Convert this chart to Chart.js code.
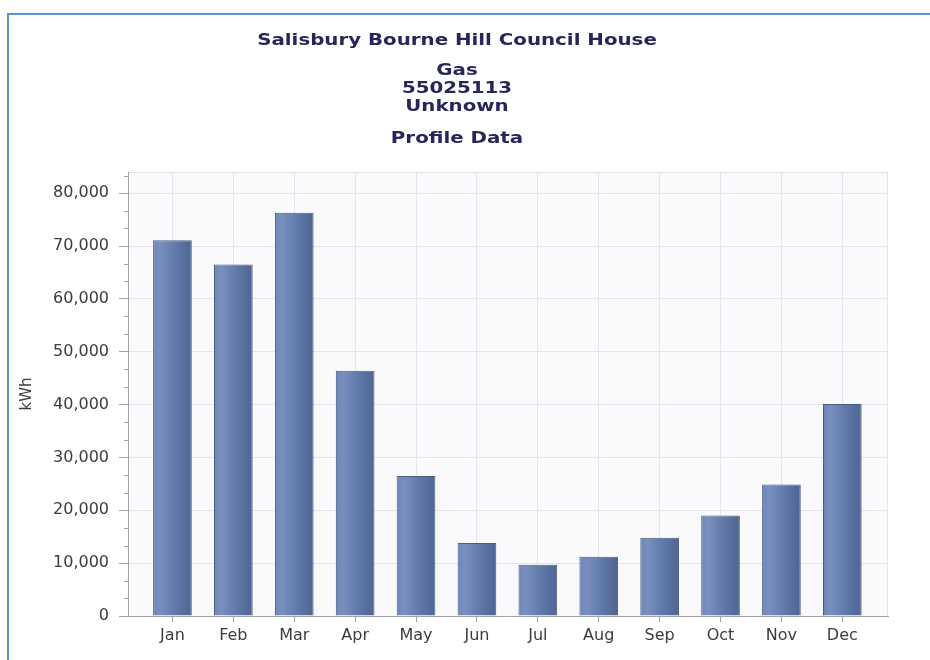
<!DOCTYPE html>
<html>
<head>
<meta charset="utf-8">
<title>Profile Data</title>
<script src="https://cdn.jsdelivr.net/npm/chart.js@4.4.1/dist/chart.umd.min.js"></script>
<style>
    body { margin: 0; background: #fff; }
    #marco {
        position: absolute; left: 7px; top: 13px; right: 0; bottom: 0;
        border-top: 2px solid #5b92d3; border-left: 2px solid #5b92d3;
    }
    #grafico { position: absolute; left: 0; top: 0; }
    .titulo {
        position: absolute; left: 0; width: 914px; text-align: center;
        font: bold 15px "DejaVu Sans", Verdana, sans-serif; color: #26265c;
        line-height: 18px; transform: scaleX(1.32); transform-origin: 457px 0;
    }
</style>
</head>
<body>
<div id="marco"></div>
<canvas id="grafico" width="930" height="660"></canvas>
<div class="titulo" style="top:31px">Salisbury Bourne Hill Council House</div>
<div class="titulo" style="top:61px">Gas<br>55025113<br>Unknown</div>
<div class="titulo" style="top:129px">Profile Data</div>

<script>
const meses = ["Jan", "Feb", "Mar", "Apr", "May", "Jun", "Jul", "Aug", "Sep", "Oct", "Nov", "Dec"]
const consumo = [71100, 66500, 76300, 46400, 26500, 13800, 9700, 11200, 14800, 19000, 24900, 40100]
const marcasY = [0, 10000, 20000, 30000, 40000, 50000, 60000, 70000, 80000]
const maxY = 84000

const colorRejilla = "#e6e3ea"
const colorEje = "#a3a3a3"

// fondo del area de trazado y marco claro
const fondoPlot = {
    id: "fondoPlot",
    beforeDraw(chart) {
        const { ctx, chartArea: a } = chart
        ctx.save()
        ctx.fillStyle = "#faf9fb"
        ctx.fillRect(a.left, a.top, a.right - a.left, a.bottom - a.top)
        ctx.strokeStyle = colorRejilla
        ctx.lineWidth = 1
        ctx.strokeRect(a.left + 0.5, a.top + 0.5, a.right - a.left - 1, a.bottom - a.top)
        ctx.restore()
    }
}

// marcas menores del eje Y (tres por cada 10,000)
const marcasMenores = {
    id: "marcasMenores",
    afterDraw(chart) {
        const { ctx } = chart
        const y = chart.scales.y
        ctx.save()
        ctx.strokeStyle = colorEje
        ctx.lineWidth = 1
        for (let i = 0; i * 10000 / 3 <= maxY; i++) {
            if (i % 3 == 0) continue
            let py = Math.round(y.getPixelForValue(i * 10000 / 3)) + 0.5
            ctx.beginPath()
            ctx.moveTo(y.right - 4, py)
            ctx.lineTo(y.right, py)
            ctx.stroke()
        }
        ctx.restore()
    }
}

function degradado(context) {
    const chart = context.chart
    const x = chart.scales.x
    if (!x || context.dataIndex === undefined) return "#6680b2"
    const centro = x.getPixelForValue(context.dataIndex)
    const medio = (x.getPixelForValue(1) - x.getPixelForValue(0)) * 0.635 / 2
    if (!Number.isFinite(centro) || !Number.isFinite(medio)) return "#6680b2"
    const g = chart.ctx.createLinearGradient(centro - medio, 0, centro + medio, 0)
    g.addColorStop(0, "#6d86b7")
    g.addColorStop(0.18, "#7990bf")
    g.addColorStop(0.6, "#5f78a8")
    g.addColorStop(1, "#4f6592")
    return g
}

const fuenteEjes = { family: "DejaVu Sans", size: 16 }

const chart = new Chart(document.getElementById("grafico"), {
    type: "bar",
    data: {
        datasets: [{
            data: meses.map((m, i) => ({ x: i, y: consumo[i] })),
            backgroundColor: degradado,
            borderColor: "#4a5d82",
            borderWidth: 1,
            borderSkipped: "bottom",
            categoryPercentage: 1,
            barPercentage: 0.635
        }]
    },
    options: {
        responsive: false,
        animation: false,
        layout: { padding: { top: 172, right: 42, bottom: 0, left: 0 } },
        plugins: { legend: { display: false }, tooltip: { enabled: false } },
        scales: {
            x: {
                type: "linear",
                offset: false,
                min: -0.73,
                max: 11.75,
                afterBuildTicks: (eje) => { eje.ticks = meses.map((m, i) => ({ value: i })) },
                afterFit: (eje) => { eje.height = 44 },
                ticks: {
                    autoSkip: false,
                    maxRotation: 0,
                    padding: 4,
                    color: "#3c3c3c",
                    font: fuenteEjes,
                    callback: (v) => meses[v]
                },
                grid: { offset: false, color: colorRejilla, tickColor: colorEje, tickLength: 6 },
                border: { color: colorEje }
            },
            y: {
                min: 0,
                max: maxY,
                afterBuildTicks: (eje) => { eje.ticks = marcasY.map(v => ({ value: v })) },
                afterFit: (eje) => { eje.width = 128 },
                ticks: {
                    padding: 10,
                    color: "#3c3c3c",
                    font: fuenteEjes,
                    callback: (v) => v.toLocaleString("en-US")
                },
                grid: { color: colorRejilla, tickColor: colorEje, tickLength: 9 },
                border: { color: colorEje },
                title: {
                    display: true,
                    text: "kWh",
                    color: "#3c3c3c",
                    font: { family: "DejaVu Sans", size: 15 },
                    padding: { top: 18, bottom: 0 }
                }
            }
        }
    },
    plugins: [fondoPlot, marcasMenores]
})
</script>
</body>
</html>
